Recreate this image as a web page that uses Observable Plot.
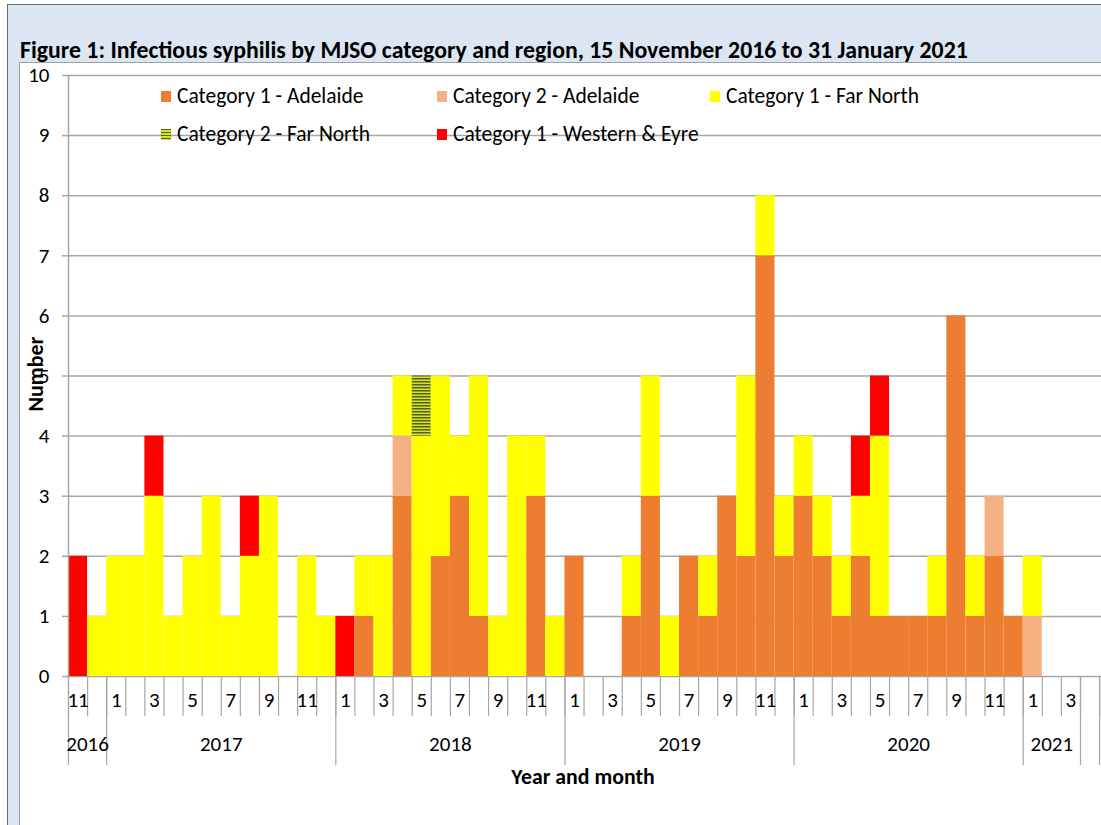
<!DOCTYPE html>
<html><head><meta charset="utf-8">
<script src="https://cdn.jsdelivr.net/npm/d3@7"></script>
<script src="https://cdn.jsdelivr.net/npm/@observablehq/plot@0.6"></script>
<style>
html,body{margin:0;padding:0;background:#fff;}
#fig{position:relative;width:1101px;height:825px;overflow:hidden;font-family:Carlito,Calibri,Lato,sans-serif;color:#000;}
#outer{position:absolute;left:7px;top:4px;right:-10px;bottom:-10px;border-left:1.5px solid #6b6b6b;border-top:1.5px solid #6b6b6b;background:#dce6f2;}
#title{position:absolute;left:20px;top:38px;font-weight:bold;font-size:23.8px;line-height:24px;white-space:nowrap;}
#panel{position:absolute;left:19px;top:62px;right:-10px;bottom:-10px;background:#fff;border-left:1px solid #a0a0a0;border-top:1px solid #a0a0a0;}
#chart{position:absolute;left:20px;top:63px;}
#ylab{position:absolute;left:35px;top:374px;transform:translate(-50%,-50%) rotate(-90deg);font-weight:bold;font-size:22px;white-space:nowrap;}
#xlab{position:absolute;left:583px;top:776px;transform:translate(-50%,-50%);font-weight:bold;font-size:21.8px;white-space:nowrap;}
.leg{position:absolute;font-size:21.5px;white-space:nowrap;display:flex;align-items:center;transform:translateY(-50%);}
.sw{width:10px;height:11px;margin-right:6px;flex:none;}
</style></head>
<body>
<div id="fig">
  <div id="outer"></div>
  <div id="title">Figure 1: Infectious syphilis by MJSO category and region, 15 November 2016 to 31 January 2021</div>
  <div id="panel"></div>
  <div id="chart"></div>
  <div id="ylab">Number</div>
  <div id="xlab">Year and month</div>
</div>
<script>
// ---- data ----
const seriesNames = ["Category 1 - Adelaide","Category 2 - Adelaide","Category 1 - Far North","Category 2 - Far North","Category 1 - Western & Eyre"];
const seriesColors = ["#ED7D31","#F4B183","#FFFF00","url(#cat2fn)","#FF0000"];
// months Nov 2016 .. Mar 2021
const monthNums = [11,12, 1,2,3,4,5,6,7,8,9,10,11,12, 1,2,3,4,5,6,7,8,9,10,11,12, 1,2,3,4,5,6,7,8,9,10,11,12, 1,2,3,4,5,6,7,8,9,10,11,12, 1,2,3];
const monthYears = [2016,2016, 2017,2017,2017,2017,2017,2017,2017,2017,2017,2017,2017,2017, 2018,2018,2018,2018,2018,2018,2018,2018,2018,2018,2018,2018, 2019,2019,2019,2019,2019,2019,2019,2019,2019,2019,2019,2019, 2020,2020,2020,2020,2020,2020,2020,2020,2020,2020,2020,2020, 2021,2021,2021];
const cat1Adelaide = [0,0, 0,0,0,0,0,0,0,0,0,0,0,0, 0,1,0,3,0,2,3,1,0,0,3,0, 2,0,0,1,3,0,2,1,3,2,7,2, 3,2,1,2,1,1,1,1,6,1,2,1, 0,0,0];
const cat2Adelaide = [0,0, 0,0,0,0,0,0,0,0,0,0,0,0, 0,0,0,1,0,0,0,0,0,0,0,0, 0,0,0,0,0,0,0,0,0,0,0,0, 0,0,0,0,0,0,0,0,0,0,1,0, 1,0,0];
const cat1FarNorth = [0,1, 2,2,3,1,2,3,1,2,3,0,2,1, 0,1,2,1,4,3,1,4,1,4,1,1, 0,0,0,1,2,1,0,1,0,3,1,1, 1,1,1,1,3,0,0,1,0,1,0,0, 1,0,0];
const cat2FarNorth = [0,0, 0,0,0,0,0,0,0,0,0,0,0,0, 0,0,0,0,1,0,0,0,0,0,0,0, 0,0,0,0,0,0,0,0,0,0,0,0, 0,0,0,0,0,0,0,0,0,0,0,0, 0,0,0];
const cat1WesternEyre = [2,0, 0,0,1,0,0,0,0,1,0,0,0,0, 1,0,0,0,0,0,0,0,0,0,0,0, 0,0,0,0,0,0,0,0,0,0,0,0, 0,0,0,1,1,0,0,0,0,0,0,0, 0,0,0];
const yTicks = [0,1,2,3,4,5,6,7,8,9,10];
const yearNames = [2016,2017,2018,2019,2020,2021];

// ---- build tables ----
const seriesValues = [cat1Adelaide, cat2Adelaide, cat1FarNorth, cat2FarNorth, cat1WesternEyre];
const rows = [];
monthNums.forEach((m, i) => {
  seriesNames.forEach((s, k) => rows.push({i, i2: i + 1, series: s, value: seriesValues[k][i]}));
});
const monthBounds = d3.range(monthNums.length + 2);
const yearBounds = [0];
monthYears.forEach((y, i) => { if (i > 0 && y !== monthYears[i - 1]) yearBounds.push(i); });
yearBounds.push(monthNums.length, monthNums.length + 1);
const monthLabels = monthNums.map((m, i) => ({c: i + 0.5, t: String(m)})).filter(d => +d.t % 2 === 1);
const yearLabels = yearNames.map(y => {
  const idx = monthYears.map((v, i) => v === y ? i : -1).filter(i => i >= 0);
  return {c: (idx[0] + idx[idx.length - 1] + 1) / 2, t: String(y)};
});

const font = "Carlito, Calibri, Lato, sans-serif";
const grid = "#a6a6a6";
const chart = Plot.plot({
  width: 1081, height: 762,
  marginLeft: 48, marginRight: 0, marginTop: 12, marginBottom: 149,
  x: {type: "linear", domain: [0, 54.1], axis: null},
  y: {domain: [0, 10], axis: null},
  color: {domain: seriesNames, range: seriesColors},
  style: {fontFamily: font, fontSize: "21px", background: "transparent", overflow: "visible", color: "#000"},
  marks: [
    Plot.ruleY(yTicks, {stroke: grid, strokeWidth: 1.5}),
    Plot.rectY(rows, Plot.stackY({x1: "i", x2: "i2", y: "value", fill: "series", order: null})),
    Plot.ruleX([0], {y1: 0, y2: 10, stroke: grid, strokeWidth: 1.5}),
    Plot.axisY({ticks: yTicks, tickSize: 6, tickPadding: 13, stroke: grid, strokeWidth: 1.5, fontSize: 21, label: null, tickFormat: d => String(d)}),
    Plot.axisX({ticks: monthBounds, tickSize: 40, tickFormat: () => "", stroke: grid, strokeWidth: 1.2, label: null}),
    Plot.axisX({ticks: yearBounds, tickSize: 89, tickFormat: () => "", stroke: grid, strokeWidth: 1.2, label: null}),
    Plot.text(monthLabels, {x: "c", text: "t", frameAnchor: "bottom", dy: 30, fontSize: 21}),
    Plot.text(yearLabels, {x: "c", text: "t", frameAnchor: "bottom", dy: 74, fontSize: 21})
  ]
});
const defs = document.createElementNS("http://www.w3.org/2000/svg", "defs");
defs.innerHTML = '<pattern id="cat2fn" patternUnits="userSpaceOnUse" width="4" height="3"><rect width="4" height="3" fill="#d9e21c"/><rect width="4" height="1.5" fill="#4f6228"/></pattern>';
chart.prepend(defs);
document.getElementById("chart").appendChild(chart);

// legend (HTML, positioned over the plot)
const legPos = [[161, 96], [437, 96], [710, 96], [161, 134], [437, 134]];
seriesNames.forEach((s, k) => {
  const el = document.createElement("div");
  el.className = "leg";
  el.style.left = legPos[k][0] + "px";
  el.style.top = legPos[k][1] + "px";
  const sw = document.createElement("div");
  sw.className = "sw";
  sw.style.background = k === 3 ? "repeating-linear-gradient(180deg,#4f6228 0 1.5px,#d9e21c 1.5px 3px)" : seriesColors[k];
  el.appendChild(sw);
  el.appendChild(document.createTextNode(s));
  document.getElementById("fig").appendChild(el);
});
</script>
</body></html>
